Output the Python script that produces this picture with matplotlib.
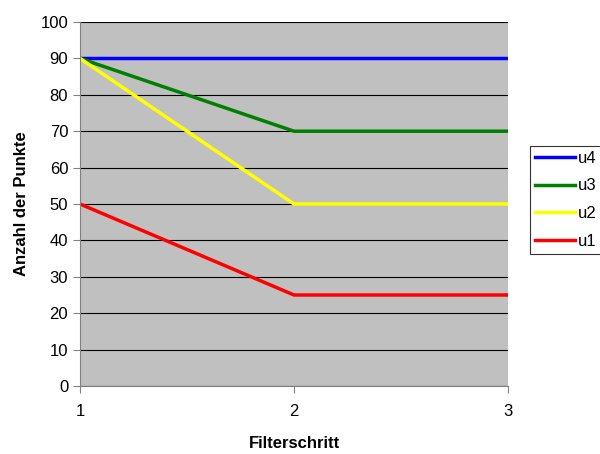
import matplotlib.pyplot as plt

# Filterschritte und Punktanzahl je Kurve
schritte = [1, 2, 3]
u4 = [90, 90, 90]
u3 = [90, 70, 70]
u2 = [90, 50, 50]
u1 = [50, 25, 25]

plt.rcParams['font.family'] = ['Liberation Sans', 'DejaVu Sans']

fig = plt.figure(figsize=(6, 4.54), dpi=100)
ax = fig.add_axes([80 / 600, 68 / 454, 428 / 600, 364 / 454])
ax.set_facecolor('#c0c0c0')

ax.plot(schritte, u4, color='#0000ff', lw=2.5, label='u4')
ax.plot(schritte, u3, color='#008000', lw=2.5, label='u3')
ax.plot(schritte, u2, color='#ffff00', lw=2.5, label='u2')
ax.plot(schritte, u1, color='#ff0000', lw=2.5, label='u1')

ax.set_xlim(1, 3)
ax.set_ylim(0, 100)
ax.set_xticks(schritte)
ax.set_yticks(range(0, 101, 10))
ax.yaxis.grid(True, color='black', lw=0.8)
ax.set_axisbelow(True)
for s in ['top', 'right']:
    ax.spines[s].set_visible(False)
for s in ['left', 'bottom']:
    ax.spines[s].set_color('#808080')
ax.tick_params(axis='both', labelsize=12, color='#808080', length=5)
ax.tick_params(axis='x', pad=8)

ax.set_xlabel('Filterschritt', fontsize=12, fontweight='bold', labelpad=12)
ax.set_ylabel('Anzahl der Punkte', fontsize=12, fontweight='bold', labelpad=8)

leg = ax.legend(loc='upper left', bbox_to_anchor=(530 / 600, 308 / 454),
                bbox_transform=fig.transFigure, fontsize=12, frameon=True,
                fancybox=False, edgecolor='black', handlelength=2.4,
                handletextpad=0.2, borderpad=0.3, labelspacing=0.75,
                borderaxespad=0)
leg.get_frame().set_linewidth(0.8)

plt.savefig('out.png', format='png')
plt.close()
